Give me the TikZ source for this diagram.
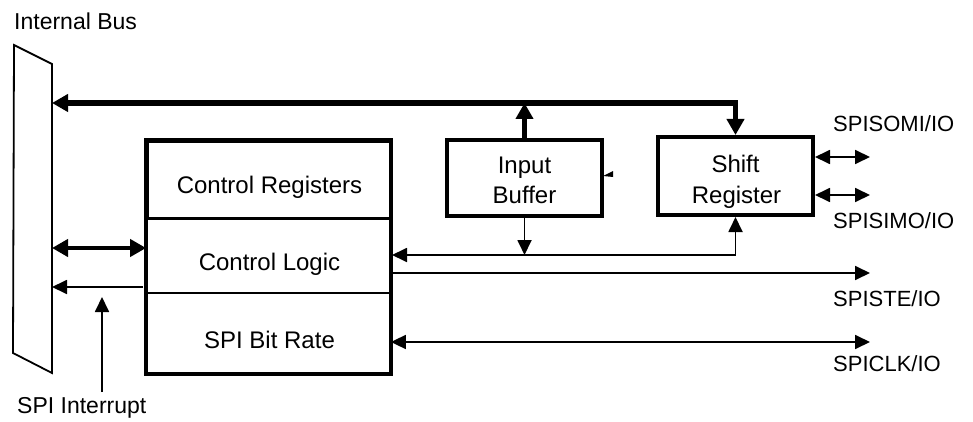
\documentclass[tikz,border=0pt]{standalone}
\usepackage{fontspec}
\setmainfont{Liberation Sans}
\usetikzlibrary{arrows.meta,calc}
\tikzset{
  bigtip/.tip={Triangle[length=16pt,width=17pt]},
  smalltip/.tip={Triangle[length=15pt,width=14pt]}}
\begin{document}
\begin{tikzpicture}[x=1pt,y=-1pt,
  thickln/.style={line width=5.5pt},
  midln/.style={line width=4.5pt},
  thinln/.style={line width=1.8pt},
  box/.style={draw,line width=4pt,inner sep=0pt},
  part/.style={draw,line width=1.8pt,inner sep=0pt,minimum width=243pt},
  txt/.style={font=\fontsize{24}{28}\selectfont,inner sep=0pt,anchor=base},
  lbl/.style={font=\fontsize{23}{26}\selectfont,inner sep=0pt,anchor=base west},
  io/.style={font=\fontsize{22}{26}\selectfont,inner sep=0pt,anchor=base west}]
\useasboundingbox (0,0) rectangle (973,422);

% internal bus shape
\draw[line width=1.8pt,line join=miter] (14,45) -- (52,64) -- (52,373) -- (13,353) -- cycle;
\node[lbl] (ibl) at (14,30) {Internal Bus};
\coordinate (bT) at (52,103);
\coordinate (bM) at (52,248);
\coordinate (bI) at (52,287);

% control block
\node[part,line width=3pt,minimum height=76pt] (creg) at (268.5,180) {};
\node[part,minimum height=75pt] (clogic) at (268.5,255.5) {};
\node[part,minimum height=80pt] (crate) at (268.5,333) {};
\draw[line width=4pt] (creg.north west) rectangle (crate.south east);
\node[txt] (cregT) at (269.5,193) {Control Registers};
\node[txt] (clogT) at (269.5,270) {Control Logic};
\node[txt] (crateT) at (269.5,348) {SPI Bit Rate};

% boxes
\node[box,minimum width=155pt,minimum height=76pt] (ibuf) at (524.5,178) {};
\node[txt] (ibufA) at (524.5,173) {Input};
\node[txt] (ibufB) at (524.5,203) {Buffer};
\node[box,minimum width=155pt,minimum height=78pt] (sreg) at (735.5,176) {};
\node[txt] (sregA) at (735.5,172) {Shift};
\node[txt] (sregB) at (736.5,203) {Register};
\fill (603,176) -- (613,171) -- (613,177) -- cycle;

% labels on the right
\node[io] (somiL) at (833,132) {SPISOMI/IO};
\node[io] (simoL) at (833,228) {SPISIMO/IO};
\node[io] (steL) at (833,306) {SPISTE/IO};
\node[io] (clkL) at (833,371) {SPICLK/IO};
\coordinate (somiE) at (870,157);
\coordinate (simoE) at (870,195);
\coordinate (steE) at (870,273);
\coordinate (clkE) at (870,342);
\coordinate (logE) at (392,255);

% internal bus lines
\draw[thickln,line join=miter,bigtip-bigtip] (bT) -- (sreg.north |- bT) -- (sreg.north);
\draw[thickln,-bigtip] (ibuf.north) -- (ibuf.north |- bT);

% data path from control logic
\draw[thinln,smalltip-smalltip] (logE) -- (sreg.south |- logE) -- (sreg.south);
\draw[thinln,-smalltip] (ibuf.south) -- (ibuf.south |- logE);

% outputs
\draw[thinln,smalltip-smalltip] (sreg.east |- somiE) -- (somiE);
\draw[thinln,smalltip-smalltip] (sreg.east |- simoE) -- (simoE);
\draw[thinln,-smalltip] (clogic.east |- steE) -- (steE);
\draw[thinln,smalltip-smalltip] (crate.east |- clkE) -- (clkE);

% left side
\draw[midln,bigtip-bigtip] (bM) -- (clogic.west |- bM);
\coordinate (intS) at (143,287);
\draw[thinln,-smalltip] (intS) -- (bI);
\node[lbl] (intl) at (17,413) {SPI Interrupt};
\coordinate (intA) at (102,297);
\draw[thinln,-smalltip] (intA |- 0,392) -- (intA);
\end{tikzpicture}
\end{document}
